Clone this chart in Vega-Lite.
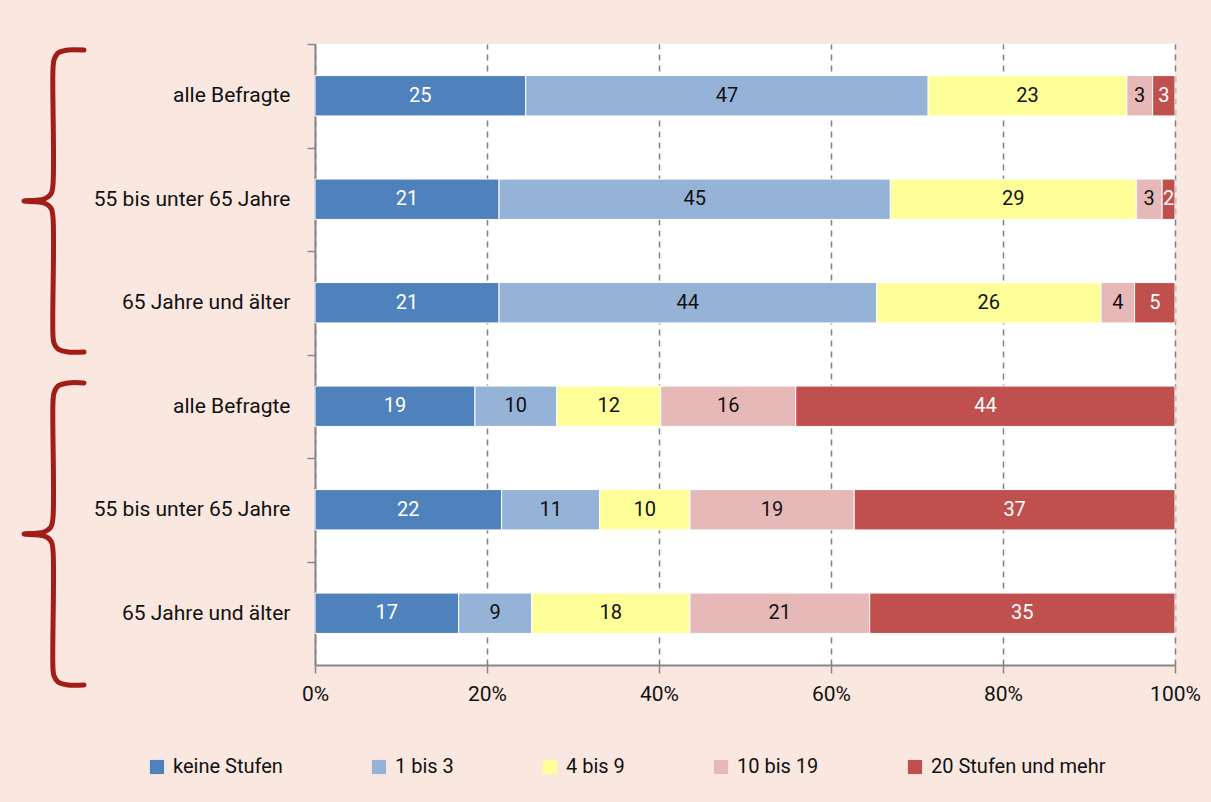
{
  "$schema": "https://vega.github.io/schema/vega-lite/v6.json",
  "width": 860,
  "height": 621,
  "autosize": {"type": "none"},
  "padding": {"left": 315, "top": 44, "right": 36, "bottom": 137},
  "background": "#f9e7e0",
  "config": {
    "view": {"fill": "white", "stroke": null},
    "font": "Roboto",
    "axis": {"labelFont": "Roboto", "labelFontSize": 20, "labelColor": "#111111", "labelLimit": 0},
    "legend": {"labelFont": "Roboto", "labelFontSize": 20, "labelColor": "#111111", "labelLimit": 0}
  },
  "datasets": {
    "bars": [
      {"row": 1, "k": 1, "cat": "keine Stufen", "value": 24.5, "label": "25"},
      {"row": 1, "k": 2, "cat": "1 bis 3", "value": 46.8, "label": "47"},
      {"row": 1, "k": 3, "cat": "4 bis 9", "value": 23.1, "label": "23"},
      {"row": 1, "k": 4, "cat": "10 bis 19", "value": 3.0, "label": "3"},
      {"row": 1, "k": 5, "cat": "20 Stufen und mehr", "value": 2.6, "label": "3"},
      {"row": 2, "k": 1, "cat": "keine Stufen", "value": 21.4, "label": "21"},
      {"row": 2, "k": 2, "cat": "1 bis 3", "value": 45.5, "label": "45"},
      {"row": 2, "k": 3, "cat": "4 bis 9", "value": 28.6, "label": "29"},
      {"row": 2, "k": 4, "cat": "10 bis 19", "value": 3.0, "label": "3"},
      {"row": 2, "k": 5, "cat": "20 Stufen und mehr", "value": 1.5, "label": "2"},
      {"row": 3, "k": 1, "cat": "keine Stufen", "value": 21.4, "label": "21"},
      {"row": 3, "k": 2, "cat": "1 bis 3", "value": 43.9, "label": "44"},
      {"row": 3, "k": 3, "cat": "4 bis 9", "value": 26.1, "label": "26"},
      {"row": 3, "k": 4, "cat": "10 bis 19", "value": 3.9, "label": "4"},
      {"row": 3, "k": 5, "cat": "20 Stufen und mehr", "value": 4.7, "label": "5"},
      {"row": 4, "k": 1, "cat": "keine Stufen", "value": 18.6, "label": "19"},
      {"row": 4, "k": 2, "cat": "1 bis 3", "value": 9.5, "label": "10"},
      {"row": 4, "k": 3, "cat": "4 bis 9", "value": 12.1, "label": "12"},
      {"row": 4, "k": 4, "cat": "10 bis 19", "value": 15.7, "label": "16"},
      {"row": 4, "k": 5, "cat": "20 Stufen und mehr", "value": 44.1, "label": "44"},
      {"row": 5, "k": 1, "cat": "keine Stufen", "value": 21.7, "label": "22"},
      {"row": 5, "k": 2, "cat": "1 bis 3", "value": 11.4, "label": "11"},
      {"row": 5, "k": 3, "cat": "4 bis 9", "value": 10.5, "label": "10"},
      {"row": 5, "k": 4, "cat": "10 bis 19", "value": 19.1, "label": "19"},
      {"row": 5, "k": 5, "cat": "20 Stufen und mehr", "value": 37.3, "label": "37"},
      {"row": 6, "k": 1, "cat": "keine Stufen", "value": 16.7, "label": "17"},
      {"row": 6, "k": 2, "cat": "1 bis 3", "value": 8.5, "label": "9"},
      {"row": 6, "k": 3, "cat": "4 bis 9", "value": 18.4, "label": "18"},
      {"row": 6, "k": 4, "cat": "10 bis 19", "value": 20.9, "label": "21"},
      {"row": 6, "k": 5, "cat": "20 Stufen und mehr", "value": 35.5, "label": "35"}
    ],
    "braces": [
      {"b": 1, "i": 1, "bx": -0.2686, "by": 0.058},
      {"b": 1, "i": 2, "bx": -0.2872, "by": 0.058},
      {"b": 1, "i": 3, "bx": -0.2988, "by": 0.087},
      {"b": 1, "i": 4, "bx": -0.3035, "by": 0.155},
      {"b": 1, "i": 5, "bx": -0.3047, "by": 0.251},
      {"b": 1, "i": 6, "bx": -0.3047, "by": 1.362},
      {"b": 1, "i": 7, "bx": -0.3070, "by": 1.449},
      {"b": 1, "i": 8, "bx": -0.3151, "by": 1.498},
      {"b": 1, "i": 9, "bx": -0.3384, "by": 1.517},
      {"b": 1, "i": 10, "bx": -0.3151, "by": 1.536},
      {"b": 1, "i": 11, "bx": -0.3070, "by": 1.585},
      {"b": 1, "i": 12, "bx": -0.3047, "by": 1.671},
      {"b": 1, "i": 13, "bx": -0.3047, "by": 2.812},
      {"b": 1, "i": 14, "bx": -0.3035, "by": 2.889},
      {"b": 1, "i": 15, "bx": -0.2988, "by": 2.947},
      {"b": 1, "i": 16, "bx": -0.2872, "by": 2.976},
      {"b": 1, "i": 17, "bx": -0.2686, "by": 2.976},
      {"b": 2, "i": 1, "bx": -0.2686, "by": 3.275},
      {"b": 2, "i": 2, "bx": -0.2872, "by": 3.275},
      {"b": 2, "i": 3, "bx": -0.2988, "by": 3.304},
      {"b": 2, "i": 4, "bx": -0.3035, "by": 3.372},
      {"b": 2, "i": 5, "bx": -0.3047, "by": 3.468},
      {"b": 2, "i": 6, "bx": -0.3047, "by": 4.579},
      {"b": 2, "i": 7, "bx": -0.3070, "by": 4.666},
      {"b": 2, "i": 8, "bx": -0.3151, "by": 4.715},
      {"b": 2, "i": 9, "bx": -0.3384, "by": 4.734},
      {"b": 2, "i": 10, "bx": -0.3151, "by": 4.753},
      {"b": 2, "i": 11, "bx": -0.3070, "by": 4.802},
      {"b": 2, "i": 12, "bx": -0.3047, "by": 4.888},
      {"b": 2, "i": 13, "bx": -0.3047, "by": 6.029},
      {"b": 2, "i": 14, "bx": -0.3035, "by": 6.106},
      {"b": 2, "i": 15, "bx": -0.2988, "by": 6.164},
      {"b": 2, "i": 16, "bx": -0.2872, "by": 6.193},
      {"b": 2, "i": 17, "bx": -0.2686, "by": 6.193}
    ]
  },
  "layer": [
    {
      "data": {"name": "bars"},
      "transform": [
        {"stack": "value", "groupby": ["row"], "sort": [{"field": "k", "order": "ascending"}], "offset": "normalize", "as": ["x0", "x1"]},
        {"calculate": "(datum.x0 + datum.x1) / 2", "as": "xm"}
      ],
      "encoding": {
        "y": {
          "field": "row", "type": "ordinal",
          "scale": {"paddingInner": 0.61, "paddingOuter": 0.305},
          "axis": {
            "title": null,
            "labelExpr": "['', 'alle Befragte', '55 bis unter 65 Jahre', '65 Jahre und älter', 'alle Befragte', '55 bis unter 65 Jahre', '65 Jahre und älter'][datum.value]",
            "tickOffset": -51.75,
            "labelOffset": 51.75,
            "tickSize": 8,
            "tickColor": "#888888",
            "tickWidth": 1.5,
            "domainColor": "#888888",
            "domainWidth": 2,
            "labelPadding": 17,
            "labelFontSize": 21,
            "grid": false
          }
        }
      },
      "layer": [
        {
          "mark": {"type": "bar", "stroke": "white", "strokeWidth": 1},
          "encoding": {
            "x": {
              "field": "x0", "type": "quantitative",
              "scale": {"domain": [0, 1], "nice": false},
              "axis": {
                "title": null,
                "format": "%",
                "values": [0, 0.2, 0.4, 0.6, 0.8, 1],
                "grid": true,
                "gridDash": [6, 5],
                "gridColor": "#808080",
                "gridWidth": 1.5,
                "tickSize": 8,
                "tickColor": "#888888",
                "tickWidth": 1.5,
                "domainColor": "#888888",
                "domainWidth": 2,
                "labelPadding": 10,
                "labelFlush": false,
                "labelFontSize": 21
              }
            },
            "x2": {"field": "x1"},
            "color": {
              "field": "cat", "type": "nominal",
              "scale": {
                "domain": ["keine Stufen", "1 bis 3", "4 bis 9", "10 bis 19", "20 Stufen und mehr"],
                "range": ["#4f81bd", "#95b3d7", "#ffff99", "#e6b9b8", "#c0504d"]
              },
              "legend": {
                "title": null,
                "orient": "none",
                "direction": "horizontal",
                "legendX": -168,
                "legendY": 713,
                "symbolType": "square",
                "symbolSize": 200,
                "symbolStrokeWidth": 0,
                "labelOffset": 6,
                "columnPadding": 86
              }
            }
          }
        },
        {
          "mark": {"type": "text", "fontSize": 20, "baseline": "middle", "align": "center"},
          "encoding": {
            "x": {"field": "xm", "type": "quantitative", "scale": {"domain": [0, 1], "nice": false}},
            "text": {"field": "label"},
            "color": {
              "condition": {"test": "datum.k == 1 || datum.k == 5", "value": "white"},
              "value": "#111111"
            }
          }
        }
      ]
    },
    {
      "data": {"name": "braces"},
      "mark": {"type": "line", "color": "#a11d15", "strokeWidth": 5, "strokeCap": "round", "strokeJoin": "round", "interpolate": "catmull-rom", "clip": false},
      "encoding": {
        "x": {"field": "bx", "type": "quantitative", "scale": {"domain": [0, 1], "nice": false}, "axis": null},
        "y": {"field": "by", "type": "quantitative", "scale": {"domain": [0, 6], "reverse": true, "nice": false, "zero": false}, "axis": null},
        "detail": {"field": "b"},
        "order": {"field": "i"}
      }
    }
  ],
  "resolve": {"scale": {"y": "independent", "x": "independent"}}
}
